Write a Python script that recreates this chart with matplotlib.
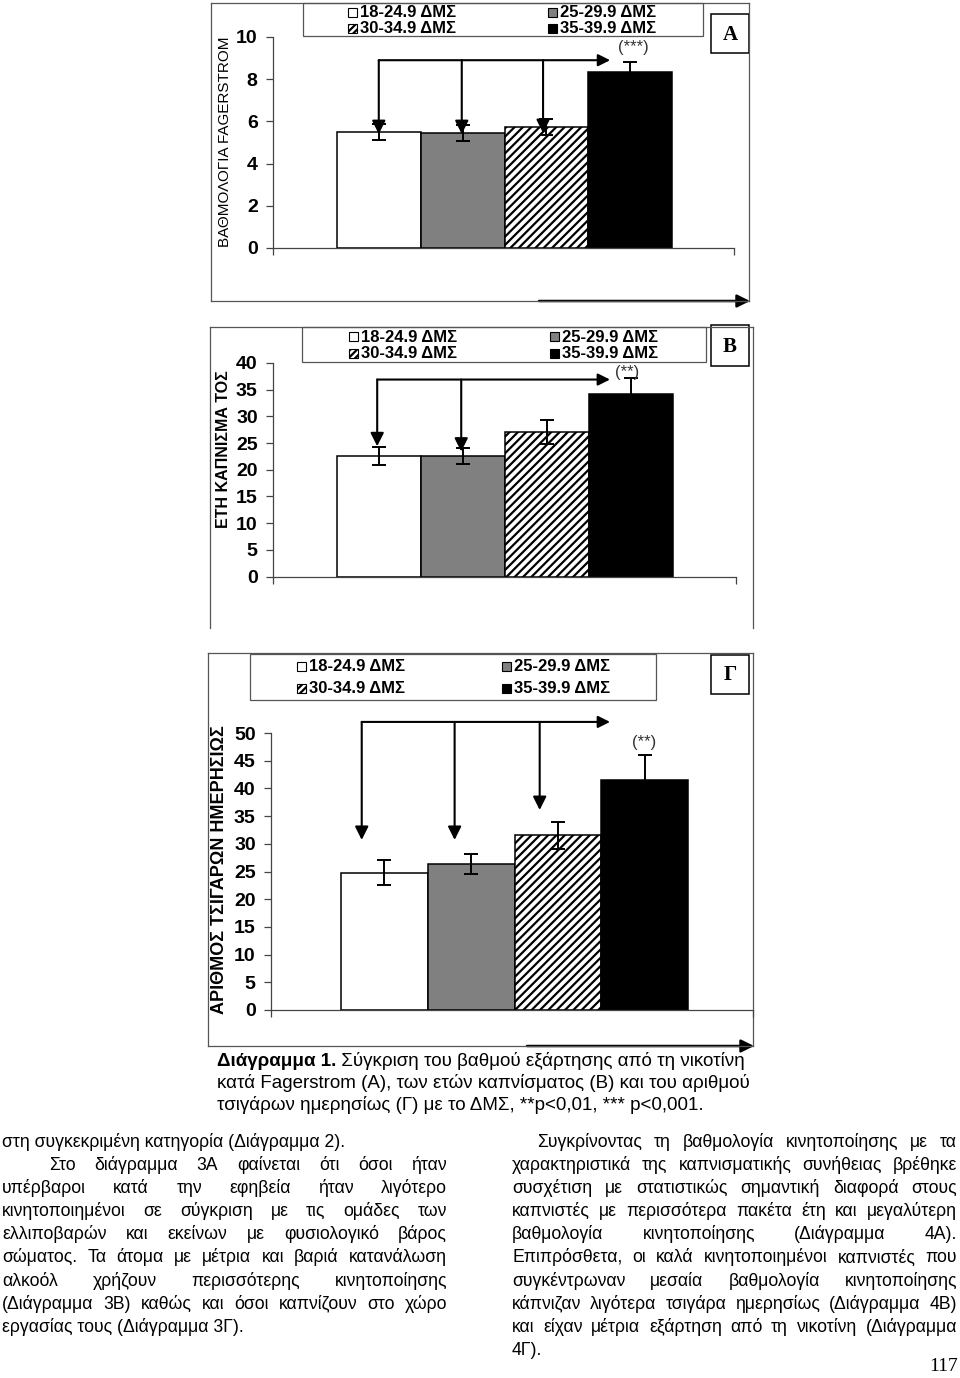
import matplotlib
matplotlib.use('Agg')
import matplotlib.pyplot as plt
from matplotlib.patches import Rectangle, FancyArrowPatch

plt.rcParams['font.family'] = 'Liberation Sans'
plt.rcParams['hatch.linewidth'] = 1.6

# ---- data ----
groups = ['18-24.9 ΔΜΣ', '25-29.9 ΔΜΣ', '30-34.9 ΔΜΣ', '35-39.9 ΔΜΣ']
bar_colors = ['white', '#808080', 'white', 'black']
bar_hatches = [None, None, '////', None]

fagerstrom = [5.5, 5.45, 5.72, 8.35]
fagerstrom_err = [0.4, 0.4, 0.38, 0.47]

smoking_years = [22.5, 22.6, 27.1, 34.1]
smoking_years_err = [1.7, 1.5, 2.25, 3.1]

cigs_per_day = [24.75, 26.3, 31.5, 41.5]
cigs_per_day_err = [2.25, 1.8, 2.4, 4.5]

caption = [
    ('Διάγραμμα 1.', ' Σύγκριση του βαθμού εξάρτησης από τη νικοτίνη'),
    ('', 'κατά Fagerstrom (Α), των ετών καπνίσματος (Β) και του αριθμού'),
    ('', 'τσιγάρων ημερησίως (Γ) με το ΔΜΣ, **p<0,01, *** p<0,001.'),
]

left_col = [
    ('στη συγκεκριμένη κατηγορία (Διάγραμμα 2).', 0, False),
    ('Στο διάγραμμα 3Α φαίνεται ότι όσοι ήταν', 47, True),
    ('υπέρβαροι κατά την εφηβεία ήταν λιγότερο', 0, True),
    ('κινητοποιημένοι σε σύγκριση με τις ομάδες των', 0, True),
    ('ελλιποβαρών και εκείνων με φυσιολογικό βάρος', 0, True),
    ('σώματος. Τα άτομα με μέτρια και βαριά κατανάλωση', 0, True),
    ('αλκοόλ χρήζουν περισσότερης κινητοποίησης', 0, True),
    ('(Διάγραμμα 3Β) καθώς και όσοι καπνίζουν στο χώρο', 0, True),
    ('εργασίας τους (Διάγραμμα 3Γ).', 0, False),
]
right_col = [
    ('Συγκρίνοντας τη βαθμολογία κινητοποίησης με τα', 25, True),
    ('χαρακτηριστικά της καπνισματικής συνήθειας βρέθηκε', 0, True),
    ('συσχέτιση με στατιστικώς σημαντική διαφορά στους', 0, True),
    ('καπνιστές με περισσότερα πακέτα έτη και μεγαλύτερη', 0, True),
    ('βαθμολογία κινητοποίησης (Διάγραμμα 4Α).', 0, True),
    ('Επιπρόσθετα, οι καλά κινητοποιημένοι καπνιστές που', 0, True),
    ('συγκέντρωναν μεσαία βαθμολογία κινητοποίησης', 0, True),
    ('κάπνιζαν λιγότερα τσιγάρα ημερησίως (Διάγραμμα 4Β)', 0, True),
    ('και είχαν μέτρια εξάρτηση από τη νικοτίνη (Διάγραμμα', 0, True),
    ('4Γ).', 0, False),
]

W, H = 960, 1378
fig = plt.figure(figsize=(W / 100, H / 100), dpi=100)
page = fig.add_axes([0, 0, 1, 1])
page.set_xlim(0, W)
page.set_ylim(H, 0)
page.axis('off')
page.set_zorder(0)
renderer = fig.canvas.get_renderer()

FRAME = '#555555'


def px_axes(l, r, top, bottom):
    ax = fig.add_axes([l / W, 1 - bottom / H, (r - l) / W, (bottom - top) / H])
    ax.set_zorder(1)
    ax.patch.set_alpha(0)
    return ax


def frame(x0, x1, y0, y1, bottom=True, arrow_from=None):
    page.plot([x0, x1], [y0, y0], color=FRAME, lw=0.9)
    page.plot([x0, x0], [y0, y1], color=FRAME, lw=0.9)
    page.plot([x1, x1], [y0, y1], color=FRAME, lw=0.9)
    if bottom:
        page.plot([x0, x1], [y1, y1], color=FRAME, lw=0.9)
    if arrow_from is not None:
        page.add_patch(FancyArrowPatch((arrow_from, y1), (x1 + 1, y1),
                                       arrowstyle='-|>,head_length=0.7,head_width=0.35',
                                       mutation_scale=11, lw=1.8, color='black',
                                       shrinkA=0, shrinkB=0))


def letter_box(x0, x1, y0, y1, letter):
    page.add_patch(Rectangle((x0, y0), x1 - x0, y1 - y0, fill=False,
                             edgecolor='black', lw=1.1))
    page.text((x0 + x1) / 2, (y0 + y1) / 2 + 1, letter, ha='center', va='center',
              fontsize=15, fontweight='bold', family='Liberation Serif')


def legend_box(x0, x1, y0, y1, cols, rows):
    page.add_patch(Rectangle((x0, y0), x1 - x0, y1 - y0, fill=False,
                             edgecolor=FRAME, lw=0.9))
    for i, label in enumerate(groups):
        mx = cols[i % 2]
        my = rows[i // 2]
        sq = Rectangle((mx, my - 4.5), 9, 9, facecolor=bar_colors[i],
                       edgecolor='black', lw=0.8)
        if bar_hatches[i]:
            sq.set_hatch('/////')
        page.add_patch(sq)
        page.text(mx + 12, my + 0.5, label, ha='left', va='center',
                  fontsize=12, fontweight='bold')


def bar_panel(ax, values, errs, ymax, step, xlim, tick_size):
    bars = ax.bar(range(len(values)), values, width=1.0, color=bar_colors,
                  edgecolor='black', linewidth=1.1, zorder=2)
    for b, h in zip(bars, bar_hatches):
        if h:
            b.set_hatch(h)
    ax.errorbar(range(len(values)), values, yerr=errs, fmt='none',
                ecolor='black', elinewidth=1.4, capsize=5, capthick=1.4, zorder=3)
    ax.set_ylim(0, ymax)
    ax.set_xlim(*xlim)
    ax.set_yticks(range(0, ymax + 1, step))
    ax.set_xticks(xlim)
    ax.set_xticklabels([])
    for s in ('top', 'right'):
        ax.spines[s].set_visible(False)
    for s in ('left', 'bottom'):
        ax.spines[s].set_color('#444444')
        ax.spines[s].set_linewidth(0.9)
    ax.tick_params(axis='y', direction='out', length=5, width=0.9, color='#444444',
                   labelsize=tick_size, pad=6)
    ax.tick_params(axis='x', direction='out', length=5, width=0.9, color='#444444')
    for t in ax.get_yticklabels():
        t.set_fontweight('bold')
    return bars


def bracket(ax, xs, tips, y, x_end):
    style = '-|>,head_length=0.8,head_width=0.4'
    ax.add_patch(FancyArrowPatch((xs[0], y), (x_end, y), arrowstyle=style,
                                 mutation_scale=9, lw=1.5, color='black',
                                 shrinkA=0, shrinkB=0, clip_on=False, zorder=4))
    for x, tip in zip(xs, tips):
        ax.add_patch(FancyArrowPatch((x, y), (x, tip), arrowstyle=style,
                                     mutation_scale=10, lw=1.5, color='black',
                                     shrinkA=0, shrinkB=0, clip_on=False, zorder=4))


# ---- panel A ----
frame(211, 749, 3, 301, bottom=True, arrow_from=539)
legend_box(303, 703, 3, 36, (348, 548), (12, 28))
letter_box(711, 749, 14, 53, 'A')
axA = px_axes(273, 734, 37, 248)
bar_panel(axA, fagerstrom, fagerstrom_err, 10, 2, (-1.262, 4.238), 14)
bracket(axA, [0.0, 0.99, 1.96], [5.4, 5.4, 5.45], 8.9, 2.76)
axA.text(3.04, 9.48, '(***)', ha='center', va='center', fontsize=12, color='#333333',
         clip_on=False)
page.text(225, 142, 'ΒΑΘΜΟΛΟΓΙΑ FAGERSTROM', rotation=90, ha='center', va='center',
          fontsize=11)

# ---- panel B ----
frame(210, 753, 327, 628, bottom=False)
legend_box(302, 706, 327, 362, (349, 550), (336.5, 353.5))
letter_box(711, 749, 325, 366, 'B')
axB = px_axes(273, 736, 363, 576.5)
bar_panel(axB, smoking_years, smoking_years_err, 40, 5, (-1.26, 4.25), 14)
bracket(axB, [-0.02, 0.98], [24.4, 23.4], 36.9, 2.75)
axB.text(2.96, 38.2, '(**)', ha='center', va='center', fontsize=12, color='#333333',
         clip_on=False)
page.text(223, 449, 'ΕΤΗ ΚΑΠΝΙΣΜΑ ΤΟΣ', rotation=90, ha='center', va='center',
          fontsize=11.5, fontweight='bold')

# ---- panel Γ ----
frame(208, 753, 653, 1046, bottom=True, arrow_from=527)
legend_box(250, 656, 654, 700, (297, 502), (666, 688))
letter_box(711, 749, 655, 694, 'Γ')
axC = px_axes(271, 753, 733, 1010)
bar_panel(axC, cigs_per_day, cigs_per_day_err, 50, 5, (-1.305, 4.247), 14)
bracket(axC, [-0.26, 0.81, 1.79], [30.7, 30.7, 36.1], 52.0, 2.6)
axC.text(2.99, 48.2, '(**)', ha='center', va='center', fontsize=12, color='#333333',
         clip_on=False)
page.text(220, 870, 'ΑΡΙΘΜΟΣ ΤΣΙΓΑΡΩΝ ΗΜΕΡΗΣΙΩΣ', rotation=90, ha='center',
          va='center', fontsize=13, fontweight='bold')

# ---- caption ----
CAP = 13.5
for i, (bold, rest) in enumerate(caption):
    y = 1066 + 22 * i
    x = 217
    if bold:
        t = page.text(x, y, bold, fontsize=CAP, fontweight='bold', va='baseline')
        x += t.get_window_extent(renderer).width
    page.text(x, y, rest, fontsize=CAP, va='baseline')

# ---- body text in two justified columns ----
BODY = 12.7


def text_column(lines, x0, x1, y0, dy):
    for i, (line, indent, justify) in enumerate(lines):
        y = y0 + dy * i
        if not justify:
            page.text(x0 + indent, y, line, fontsize=BODY, va='baseline')
            continue
        words = line.split()
        ts = [page.text(0, y, w, fontsize=BODY, va='baseline') for w in words]
        widths = [t.get_window_extent(renderer).width for t in ts]
        gap = max((x1 - x0 - indent - sum(widths)) / (len(words) - 1), 2.5)
        x = x0 + indent
        for t, w in zip(ts, widths):
            t.set_x(x)
            x += w + gap


text_column(left_col, 2, 447, 1147, 23.1)
text_column(right_col, 512, 957, 1147, 23.1)
page.text(958, 1371, '117', ha='right', va='baseline', fontsize=14,
          family='Liberation Serif')

fig.savefig('out.png', dpi=100)
